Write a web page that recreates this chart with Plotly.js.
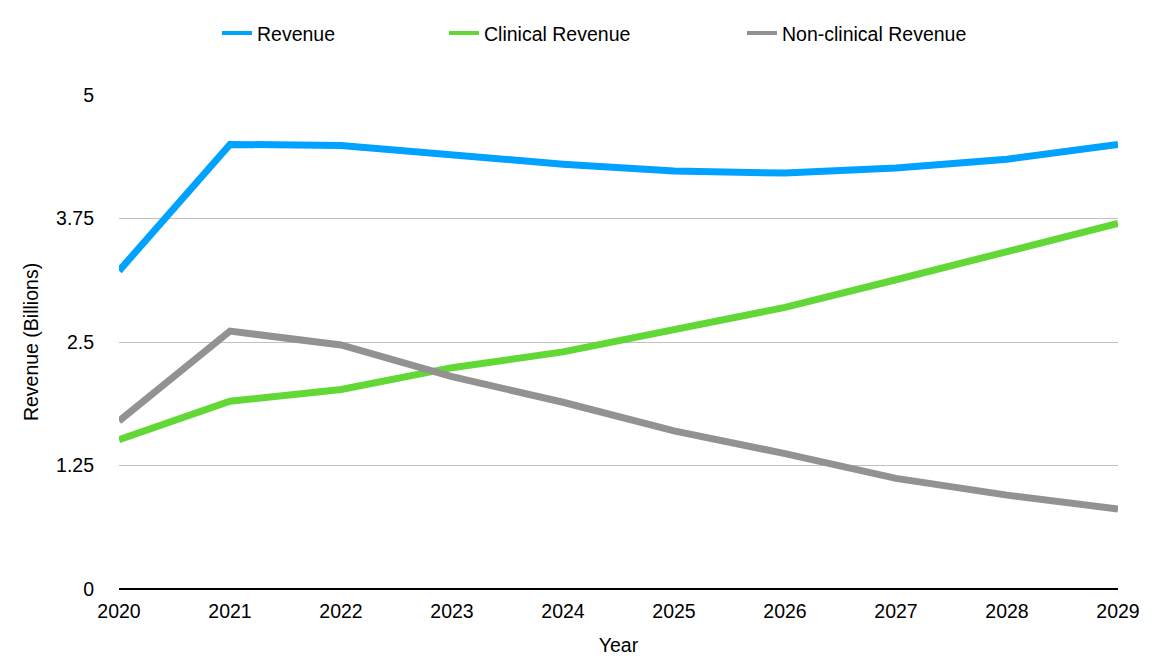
<!DOCTYPE html>
<html>
<head>
<meta charset="utf-8">
<script src="https://cdn.plot.ly/plotly-3.0.1.min.js"></script>
<style>html,body{margin:0;padding:0;background:#fff;}#chart{width:1170px;height:656px;}</style>
</head>
<body>
<div id="chart"></div>
<script>
const years = [2020, 2021, 2022, 2023, 2024, 2025, 2026, 2027, 2028, 2029];
const revenue = [3.22, 4.50, 4.49, 4.39, 4.30, 4.23, 4.21, 4.26, 4.35, 4.50];
const clinicalRevenue = [1.51, 1.90, 2.02, 2.24, 2.40, 2.63, 2.85, 3.13, 3.41, 3.70];
const nonClinicalRevenue = [1.70, 2.61, 2.47, 2.15, 1.89, 1.60, 1.37, 1.12, 0.95, 0.81];
const seriesNames = ['Revenue', 'Clinical Revenue', 'Non-clinical Revenue'];
const seriesColors = ['#00A2FF', '#61D836', '#929292'];
const yTicks = [0, 1.25, 2.5, 3.75, 5];
const yTickLabels = ['0', '1.25', '2.5', '3.75', '5'];

const font = 'Liberation Sans, Arial, Helvetica, sans-serif';
const FS = 19.5;
const series = [revenue, clinicalRevenue, nonClinicalRevenue];
const legendIds = ['legend', 'legend2', 'legend3'];
const data = [];
series.forEach((y, i) => {
  data.push({
    x: years, y: y, name: seriesNames[i], type: 'scatter', mode: 'lines',
    line: {color: seriesColors[i], width: 7}, showlegend: false, hoverinfo: 'skip'
  });
});
series.forEach((y, i) => {
  // legend entry with the thinner legend swatch
  data.push({
    x: [null], y: [null], name: seriesNames[i], type: 'scatter', mode: 'lines',
    line: {color: seriesColors[i], width: 4}, legend: legendIds[i], showlegend: true, hoverinfo: 'skip'
  });
});
const legBase = {orientation: 'h', y: 1.125, yanchor: 'middle', xanchor: 'left',
  font: {family: font, size: FS, color: '#000'}, bgcolor: 'rgba(0,0,0,0)', itemwidth: 30};
const layout = {
  width: 1170, height: 656,
  margin: {l: 119, r: 52, t: 95, b: 67},
  paper_bgcolor: '#fff', plot_bgcolor: '#fff',
  font: {family: font, size: FS, color: '#000'},
  showlegend: true,
  legend: Object.assign({}, legBase, {x: (217 - 119) / 999}),
  legend2: Object.assign({}, legBase, {x: (444 - 119) / 999}),
  legend3: Object.assign({}, legBase, {x: (742 - 119) / 999}),
  xaxis: {
    range: [2020, 2029], tickvals: years, ticktext: years.map(String),
    showgrid: false, zeroline: false, showline: false, ticks: '',
    ticklabelstandoff: 8,
    tickfont: {family: font, size: FS, color: '#000'},
    title: {text: 'Year', font: {family: font, size: FS, color: '#000'}, standoff: 20},
    fixedrange: true
  },
  yaxis: {
    range: [0, 5], tickvals: yTicks, ticktext: yTickLabels,
    showgrid: true, gridcolor: '#C0C0C0', gridwidth: 1,
    zeroline: true, zerolinecolor: '#000', zerolinewidth: 2,
    showline: false, ticks: '',
    ticklabelstandoff: 24,
    tickfont: {family: font, size: FS, color: '#000'},
    title: {text: 'Revenue (Billions)', font: {family: font, size: FS, color: '#000'}, standoff: 12},
    fixedrange: true
  }
};
Plotly.newPlot('chart', data, layout, {displayModeBar: false, staticPlot: true});
</script>
</body>
</html>
